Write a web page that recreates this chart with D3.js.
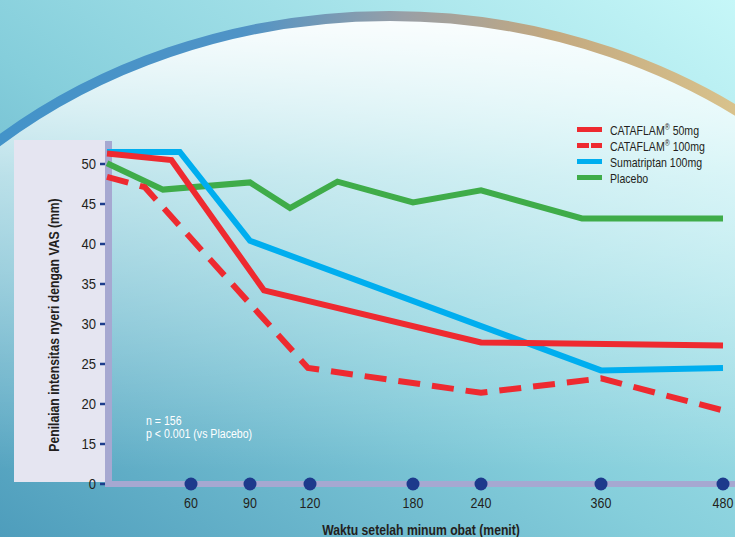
<!DOCTYPE html>
<html>
<head>
<meta charset="utf-8">
<script src="https://cdn.jsdelivr.net/npm/d3@7"></script>
<style>
  html, body { margin: 0; padding: 0; background: #8fd3de; }
  svg { display: block; }
  text { font-family: "Liberation Sans", Arial, Helvetica, sans-serif; }
</style>
</head>
<body>
<div id="chart"></div>
<script>
// Time after taking the drug (minutes) and VAS pain scores (mm)
const tickMinutes = [60, 90, 120, 180, 240, 360, 480];
const tickScores = [0, 15, 20, 25, 30, 35, 40, 45, 50];

const cataflam50Time  = [0, 46, 97, 240, 480];
const cataflam50Vas   = [51.3, 50.5, 34.2, 27.7, 27.3];

const cataflam100Time = [0, 27, 119, 240, 360, 480];
const cataflam100Vas  = [48.4, 47.1, 24.5, 21.4, 23.2, 19.2];

const sumatriptanTime = [0, 52, 90, 360, 480];
const sumatriptanVas  = [51.5, 51.5, 40.4, 24.2, 24.5];

const placeboTime     = [0, 40, 90, 110, 136, 180, 240, 341, 480];
const placeboVas      = [50.1, 46.8, 47.7, 44.5, 47.8, 45.2, 46.7, 43.2, 43.2];

const seriesNames  = ["CATAFLAM", "CATAFLAM", "Sumatriptan 100mg", "Placebo"];
const seriesSuffix = [" 50mg", " 100mg", "", ""];

const W = 735, H = 537;
const svg = d3.select("#chart").append("svg").attr("width", W).attr("height", H);
const defs = svg.append("defs");

// condensed look: squeeze text horizontally around its anchor point
const squeeze = (x0, y0, sx, rot) =>
  `translate(${x0},${y0})${rot ? ` rotate(${rot})` : ""} scale(${sx},1)`;

// ---- background ----
const bg = defs.append("linearGradient").attr("id", "bg")
  .attr("x1", 0).attr("y1", 1).attr("x2", 1).attr("y2", 0);
bg.append("stop").attr("offset", 0).attr("stop-color", "#4e9dbc");
bg.append("stop").attr("offset", 0.45).attr("stop-color", "#85cedb");
bg.append("stop").attr("offset", 1).attr("stop-color", "#c6f7f8");
svg.append("rect").attr("width", W).attr("height", H).attr("fill", "url(#bg)");

const glow = defs.append("linearGradient").attr("id", "glow")
  .attr("gradientUnits", "userSpaceOnUse").attr("x1", 0).attr("y1", 16).attr("x2", 0).attr("y2", 470);
glow.append("stop").attr("offset", 0).attr("stop-color", "#ffffff").attr("stop-opacity", 0.95);
glow.append("stop").attr("offset", 0.35).attr("stop-color", "#ffffff").attr("stop-opacity", 0.5);
glow.append("stop").attr("offset", 1).attr("stop-color", "#ffffff").attr("stop-opacity", 0);

const arcGrad = defs.append("linearGradient").attr("id", "arcGrad")
  .attr("gradientUnits", "userSpaceOnUse").attr("x1", 0).attr("y1", 0).attr("x2", W).attr("y2", 0);
[[0, "#4393c9"], [0.33, "#4f93c6"], [0.55, "#999fa6"], [0.75, "#c3a980"], [1, "#d8c28c"]]
  .forEach(([o, c]) => arcGrad.append("stop").attr("offset", o).attr("stop-color", c));

svg.append("ellipse").attr("cx", 390).attr("cy", 533).attr("rx", 600).attr("ry", 517)
  .attr("fill", "url(#glow)").attr("stroke", "url(#arcGrad)").attr("stroke-width", 10);

// ---- scales (time axis is drawn with uneven spacing; score axis is broken below 15) ----
const x = d3.scaleLinear()
  .domain([0, 60, 90, 120, 180, 240, 360, 480])
  .range([107, 191, 250, 310, 413, 481, 601, 723]);
const y = d3.scaleLinear()
  .domain([0, 15, 50])
  .range([484, 444, 164]);

// ---- y-axis panel ----
svg.append("rect").attr("x", 14).attr("y", 140).attr("width", 92).attr("height", 342).attr("fill", "#e5e5f1");
// axis bars
svg.append("rect").attr("x", 105).attr("y", 141).attr("width", 7).attr("height", 346).attr("fill", "#a6a8d1");
svg.append("rect").attr("x", 105).attr("y", 481).attr("width", W - 105).attr("height", 6).attr("fill", "#a6a8d1");

const yAxis = svg.append("g");
yAxis.selectAll("line").data(tickScores).join("line")
  .attr("x1", 100).attr("x2", 105)
  .attr("y1", d => y(d)).attr("y2", d => y(d))
  .attr("stroke", "#1d3d8c").attr("stroke-width", 2.5);
yAxis.selectAll("text").data(tickScores).join("text")
  .attr("transform", d => squeeze(96, y(d) + 5, 0.9))
  .attr("text-anchor", "end").attr("font-size", 14.5).attr("fill", "#231f20")
  .text(d => d);

svg.append("text")
  .attr("transform", squeeze(59, 325, 0.87, -90))
  .attr("text-anchor", "middle").attr("font-size", 14).attr("font-weight", "bold").attr("fill", "#231f20")
  .text("Penilaian intensitas nyeri dengan VAS (mm)");

// ---- x axis ----
const xAxis = svg.append("g");
xAxis.selectAll("circle").data(tickMinutes).join("circle")
  .attr("cx", d => x(d)).attr("cy", 484).attr("r", 6.5).attr("fill", "#1d3a8c");
xAxis.selectAll("text").data(tickMinutes).join("text")
  .attr("transform", d => squeeze(x(d), 508, 0.86))
  .attr("text-anchor", "middle").attr("font-size", 14.5).attr("fill", "#231f20")
  .text(d => d);
svg.append("text")
  .attr("transform", squeeze(421, 535, 0.87))
  .attr("text-anchor", "middle")
  .attr("font-size", 14).attr("font-weight", "bold").attr("fill", "#231f20")
  .text("Waktu setelah minum obat (menit)");

// ---- series ----
const series = [
  { t: placeboTime, v: placeboVas, color: "#3fac49", dash: null },
  { t: sumatriptanTime, v: sumatriptanVas, color: "#00aeef", dash: null },
  { t: cataflam100Time, v: cataflam100Vas, color: "#ee2a30", dash: "22,12" },
  { t: cataflam50Time, v: cataflam50Vas, color: "#ee2a30", dash: null }
];
const line = d3.line().x(d => x(d[0])).y(d => y(d[1]));
svg.append("g").selectAll("path").data(series).join("path")
  .attr("d", s => line(d3.zip(s.t, s.v)))
  .attr("fill", "none").attr("stroke", s => s.color).attr("stroke-width", 6)
  .attr("stroke-linejoin", "miter").attr("stroke-dasharray", s => s.dash);

// ---- legend ----
const legendItems = [
  { color: "#ee2a30", dash: null, i: 0 },
  { color: "#ee2a30", dash: "12,2", i: 1 },
  { color: "#00aeef", dash: null, i: 2 },
  { color: "#3fac49", dash: null, i: 3 }
];
const lg = svg.append("g").selectAll("g").data(legendItems).join("g")
  .attr("transform", (d, k) => `translate(577,${129.5 + k * 16})`);
lg.append("line").attr("x1", 0).attr("x2", 25).attr("stroke", d => d.color)
  .attr("stroke-width", 5).attr("stroke-dasharray", d => d.dash);
const lt = lg.append("text").attr("transform", squeeze(33, 5, 0.8))
  .attr("font-size", 13.2).attr("fill", "#231f20");
lt.append("tspan").text(d => seriesNames[d.i]);
lt.filter(d => d.i < 2).append("tspan").attr("font-size", 8.5).attr("dy", -4.5).text("®");
lt.filter(d => d.i < 2).append("tspan").attr("dy", 4.5).text(d => seriesSuffix[d.i]);

// ---- note ----
const note = svg.append("text").attr("font-size", 12.3).attr("fill", "#ffffff")
  .attr("transform", squeeze(146, 0, 0.86));
note.append("tspan").attr("x", 0).attr("y", 425).text("n = 156");
note.append("tspan").attr("x", 0).attr("y", 438.5).text("p < 0.001 (vs Placebo)");
</script>
</body>
</html>
